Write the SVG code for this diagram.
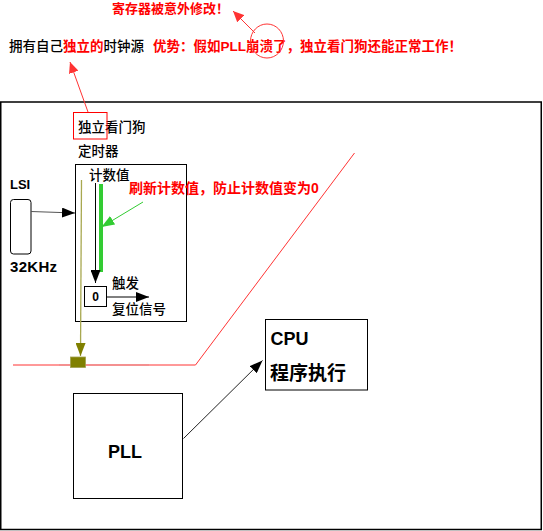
<svg xmlns="http://www.w3.org/2000/svg" width="543" height="531" viewBox="0 0 543 531">
<style>
.cjk{font-family:"Liberation Sans","Noto Sans CJK SC",sans-serif;font-size:13.5px;font-weight:500;fill:#000}
.red{fill:#ff0000;font-weight:bold}
.lat{font-family:"Liberation Sans","Noto Sans CJK SC",sans-serif;font-weight:bold;fill:#000}
.box{fill:#fff;stroke:#000;stroke-width:1}
</style>
<defs>
<marker id="ahB" markerUnits="userSpaceOnUse" markerWidth="14" markerHeight="10" refX="13" refY="5" orient="auto"><path d="M0,0 L13,5 L0,10 z" fill="#000"/></marker>
<marker id="ahG" markerUnits="userSpaceOnUse" markerWidth="14" markerHeight="10" refX="13" refY="5" orient="auto"><path d="M0,0 L13,5 L0,10 z" fill="#33cc33"/></marker>
<marker id="ahO" markerUnits="userSpaceOnUse" markerWidth="14" markerHeight="10" refX="13" refY="5" orient="auto"><path d="M0,0 L13,5 L0,10 z" fill="#808000"/></marker>
<marker id="ahR" markerUnits="userSpaceOnUse" markerWidth="12" markerHeight="10" refX="11" refY="5" orient="auto"><path d="M0,0 L11,5 L0,10 z" fill="#ff3333"/></marker>
</defs>
<rect x="0" y="0" width="543" height="531" fill="#fff"/>
<g id="frame"><rect x="0.75" y="102" width="540.5" height="427.5" fill="none" stroke="#000" stroke-width="1.5"/></g>
<g id="lsi">
<text class="lat" x="10" y="189" style="font-size:13px">LSI</text>
<rect x="10.5" y="199.5" width="20.5" height="54.5" rx="3" fill="#fff" stroke="#000" stroke-width="1"/>
<text class="lat" x="10" y="271.5" style="font-size:15px" letter-spacing="0.3">32KHz</text>
</g>
<g id="iwdg">
<text class="cjk" x="78" y="131.5">独立看门狗</text>
<text class="cjk" x="78" y="155.5">定时器</text>
</g>
<g id="timer">
<rect class="box" x="75.5" y="164.5" width="111" height="157"/>
<text class="cjk" x="89" y="179.5">计数值</text>
<rect x="99" y="184" width="4" height="88" fill="#33cc33"/>
<rect class="box" x="84.5" y="286.5" width="22" height="20"/>
<text class="lat" x="95.5" y="300.5" style="font-size:12px" text-anchor="middle">0</text>
<text class="cjk" x="112" y="288">触发</text>
<text class="cjk" x="112" y="313.5">复位信号</text>
</g>
<g id="cpu">
<rect class="box" x="265.5" y="319.5" width="102" height="70.5"/>
<text class="lat" x="270.5" y="344.5" style="font-size:18px">CPU</text>
<text class="cjk" x="270" y="380" style="font-size:19px;font-weight:bold">程序执行</text>
</g>
<g id="pll">
<rect class="box" x="73.5" y="393.5" width="109" height="105"/>
<text class="lat" x="108" y="457.5" style="font-size:18px">PLL</text>
</g>
<g id="annotations">
<text class="cjk red" x="112" y="12.5" style="font-size:13px">寄存器被意外修改！</text>
<text class="cjk" x="9" y="51">拥有自己<tspan fill="#ff0000" font-weight="bold">独立的</tspan>时钟源</text>
<text class="cjk red" x="153" y="51">优势：假如PLL崩溃了，独立看门狗还能正常工作！</text>
<ellipse cx="267" cy="41" rx="16.5" ry="17" fill="none" stroke="#ff3333" stroke-width="1"/>
<rect x="73.5" y="112.5" width="33.5" height="26.5" fill="none" stroke="#ff0000" stroke-width="1"/>
<text class="cjk red" x="129" y="193" style="font-size:14px">刷新计数值，防止计数值变为0</text>
</g>
<g id="connectors" fill="none">
<line x1="88" y1="112" x2="70" y2="62" stroke="#ff3333" stroke-width="1" marker-end="url(#ahR)"/>
<line x1="255" y1="33" x2="233" y2="11" stroke="#ff3333" stroke-width="1" marker-end="url(#ahR)"/>
<line x1="31" y1="211.5" x2="75" y2="213" stroke="#555" stroke-width="1.2" marker-end="url(#ahB)"/>
<line x1="95.5" y1="183" x2="95.5" y2="283" stroke="#000" stroke-width="1" marker-end="url(#ahB)"/>
<line x1="143" y1="202" x2="101.5" y2="227" stroke="#33cc33" stroke-width="1" marker-end="url(#ahG)"/>
<line x1="107" y1="297" x2="149" y2="297" stroke="#000" stroke-width="1" marker-end="url(#ahB)"/>
<line x1="81.5" y1="180" x2="80.5" y2="356" stroke="#a8a850" stroke-width="1.3" marker-end="url(#ahO)"/>
<polyline points="13,365 195.5,365 354.5,153" stroke="#ff3333" stroke-width="1"/>
<line x1="59" y1="365" x2="149" y2="365" stroke="#f49090" stroke-width="2"/>
<rect x="70.5" y="357" width="15" height="10.5" fill="#808000" stroke="#a0a050" stroke-width="0.8"/>
<line x1="183.5" y1="438.5" x2="262.5" y2="360.5" stroke="#222" stroke-width="1" marker-end="url(#ahB)"/>
</g>
</svg>
